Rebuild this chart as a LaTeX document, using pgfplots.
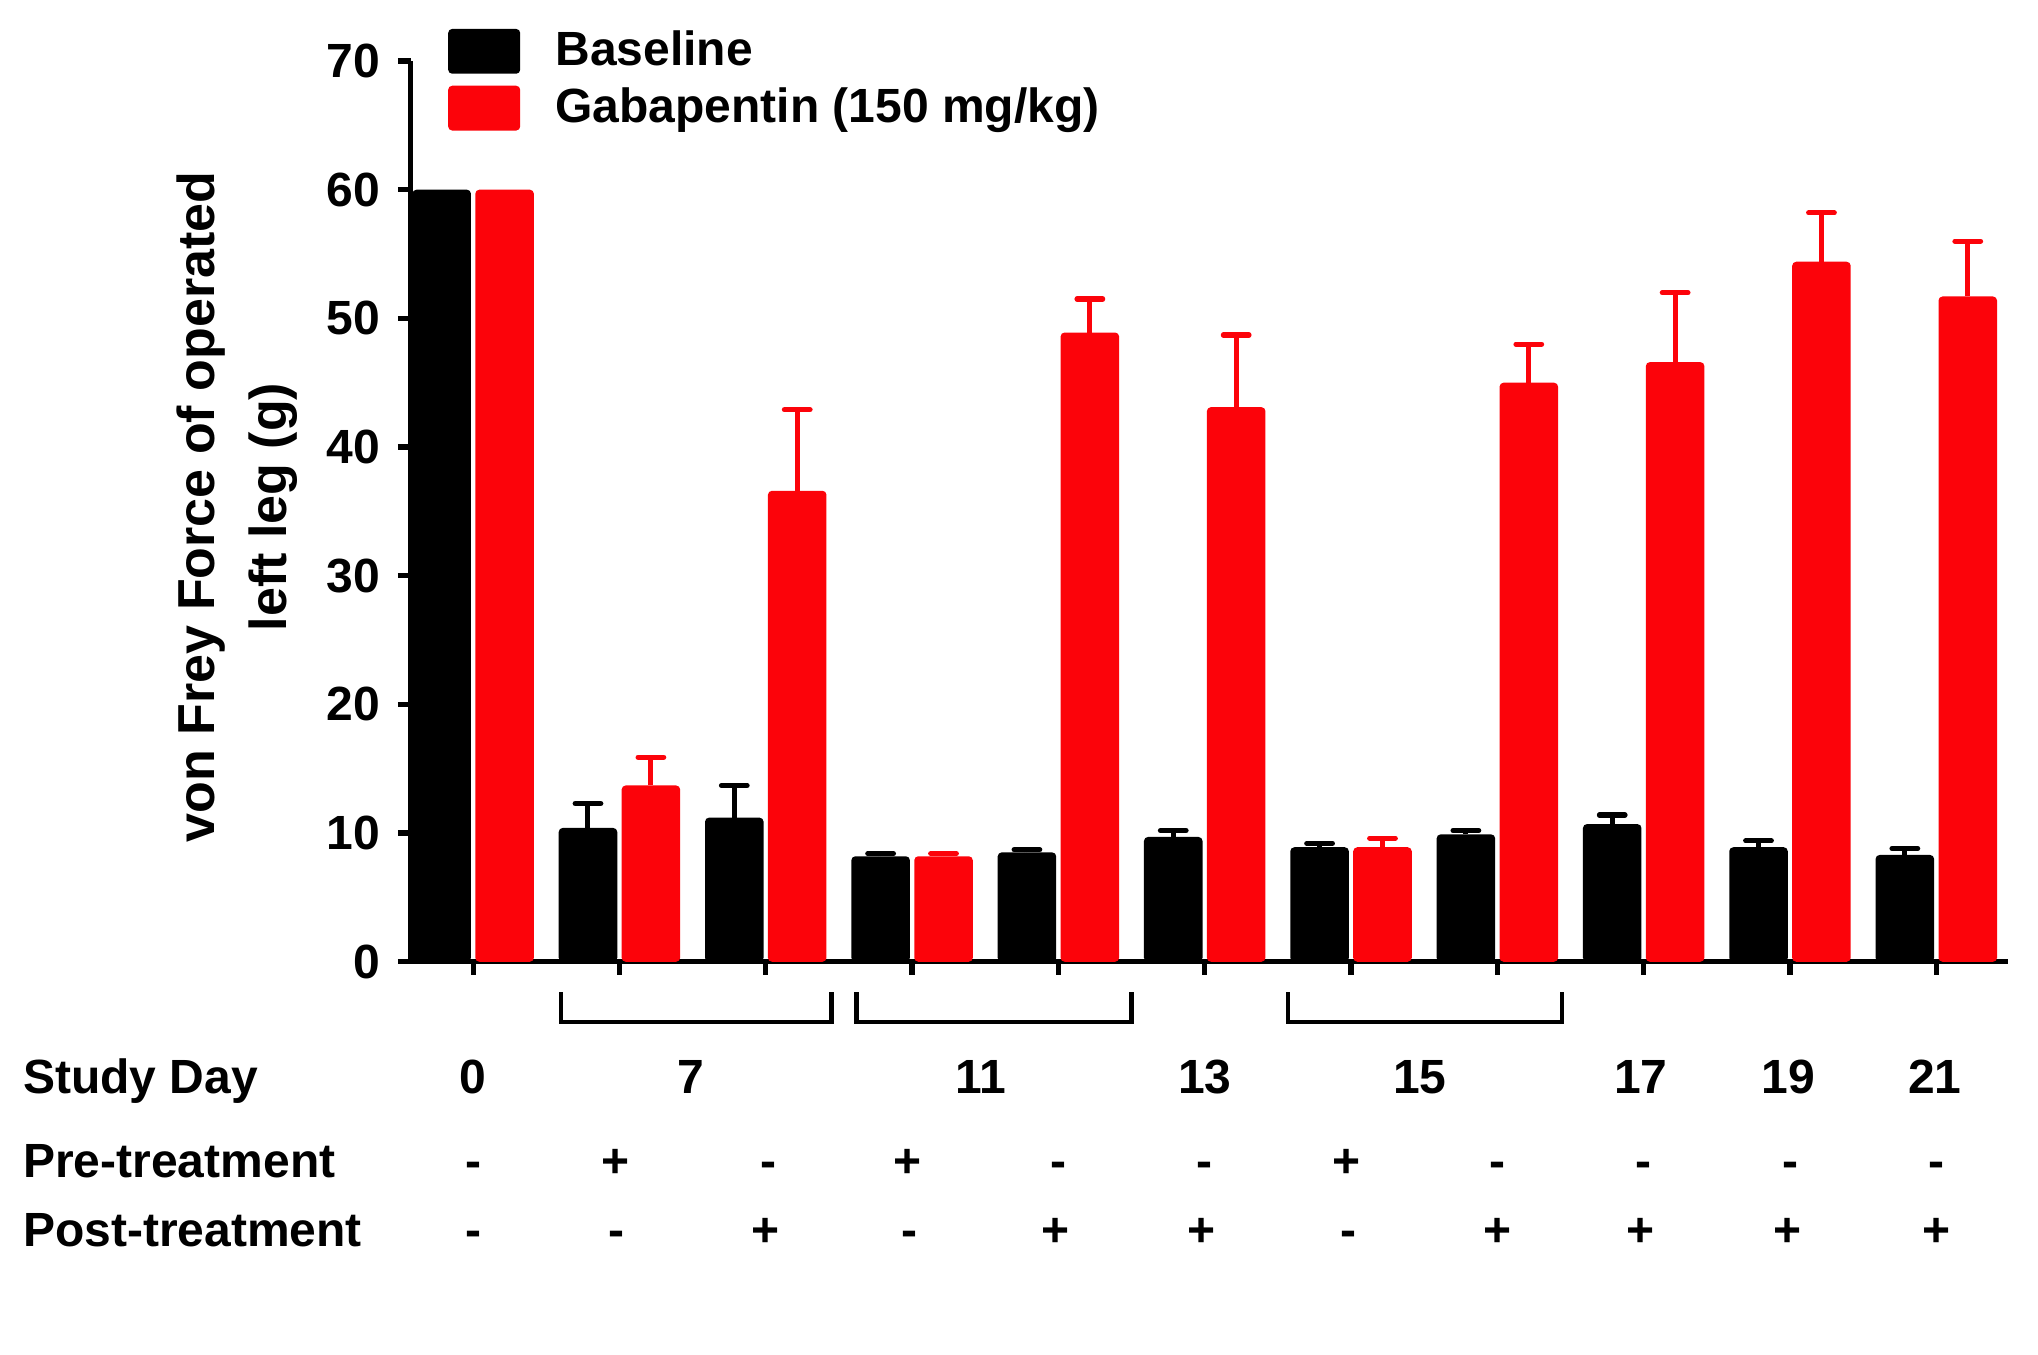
\documentclass[border=0pt]{standalone}
\usepackage{fontspec}
\setmainfont{Liberation Sans}
\usepackage{pgfplots}
\usepackage{pgfplotstable}
\pgfplotsset{compat=1.18}
\definecolor{gred}{RGB}{252,3,10}
\newcommand{\lbl}{\bfseries\fontsize{12}{14}\selectfont}

\pgfplotstableread{
x y err
1 10.4 1.9
2 11.2 2.5
3 8.2 0.2
4 8.5 0.2
5 9.7 0.5
6 8.9 0.3
7 9.9 0.3
8 10.7 0.7
9 8.9 0.5
10 8.3 0.5
}\basetab

\pgfplotstableread{
x y err
1 13.7 2.2
2 36.6 6.3
3 8.2 0.2
4 48.9 2.6
5 43.1 5.6
6 8.9 0.7
7 45.0 3.0
8 46.6 5.4
9 54.4 3.8
10 51.7 4.3
}\gabatab

\newcommand{\cell}[3]{\node[anchor=base, font=\lbl, inner sep=0pt] at (axis cs:#1,#2) {#3};}

\begin{document}
\begin{tikzpicture}
\useasboundingbox (0,0) rectangle (509.5pt,338.75pt);
\begin{axis}[
  at={(102.7pt,98.3pt)}, anchor=south west,
  scale only axis, width=399.3pt, height=225.2pt,
  xmin=-0.426, xmax=10.49, ymin=0, ymax=70,
  axis lines=left,
  axis line style={-, line width=1.3pt},
  tick align=outside,
  major tick length=3.2pt,
  every tick/.style={line width=1.3pt, black},
  xtick={0,...,10}, xticklabels={},
  ytick={0,10,...,70},
  yticklabel style={font=\lbl, xshift=-1pt},
  /pgf/number format/assume math mode=true,
  ylabel={von Frey Force of operated\\left leg (g)},
  every axis y label/.style={at={(axis description cs:-0.1087,0.505)}, rotate=90, anchor=center,
    font=\bfseries\fontsize{13}{18}\selectfont, align=center},
  clip=false,
  ybar, bar width=0.4,
  legend style={at={(axis description cs:0.0234,1.0356)}, anchor=north west,
    draw=none, fill=none, inner sep=0pt, outer sep=0pt, row sep=3pt,
    font=\lbl, legend cell align=left,
    nodes={inner sep=0pt}},
  legend image code/.code={\path[#1, draw=none] (0pt,-5.6pt) rectangle (18pt,5.6pt); \path (26.8pt,0pt);},
]
\addplot[fill=black, draw=none, bar shift=-0.215, rounded corners=1pt,
  error bars/.cd, y dir=plus, y explicit,
  error bar style={draw=black, line width=1.25pt, sharp corners},
  error mark options={rotate=90, mark size=3.2pt, line width=1.3pt, line cap=round, draw=black}]
  table[x=x, y=y, y error=err] {\basetab};
\addlegendentry{Baseline}
\addplot[fill=gred, draw=none, bar shift=0.215, rounded corners=1pt,
  error bars/.cd, y dir=plus, y explicit,
  error bar style={draw=gred, line width=1.25pt, sharp corners},
  error mark options={rotate=90, mark size=3.2pt, line width=1.3pt, line cap=round, draw=gred}]
  table[x=x, y=y, y error=err] {\gabatab};
\addlegendentry{Gabapentin (150 mg/kg)}
% day 0 (no error bars)
\addplot[fill=black, draw=none, bar shift=-0.215, rounded corners=1pt, forget plot] coordinates {(0,60)};
\addplot[fill=gred, draw=none, bar shift=0.215, rounded corners=1pt, forget plot] coordinates {(0,60)};

% brackets
\draw[line width=1.1pt] (axis cs:0.60,-2.35) -- (axis cs:0.60,-4.68) -- (axis cs:2.45,-4.68) -- (axis cs:2.45,-2.35);
\draw[line width=1.1pt] (axis cs:2.62,-2.35) -- (axis cs:2.62,-4.68) -- (axis cs:4.50,-4.68) -- (axis cs:4.50,-2.35);
\draw[line width=1.1pt] (axis cs:5.57,-2.35) -- (axis cs:5.57,-4.68) -- (axis cs:7.44,-4.68) -- (axis cs:7.44,-2.35);

% row labels
\node[anchor=base west, font=\lbl, inner sep=0pt] at (axis cs:-3.08,-10.2) {Study Day};
\node[anchor=base west, font=\lbl, inner sep=0pt] at (axis cs:-3.08,-16.76) {Pre-treatment};
\node[anchor=base west, font=\lbl, inner sep=0pt] at (axis cs:-3.08,-22.12) {Post-treatment};

% study days
\cell{0}{-10.2}{0}
\cell{1.49}{-10.2}{7}
\cell{3.47}{-10.2}{11}
\cell{5.0}{-10.2}{13}
\cell{6.47}{-10.2}{15}
\cell{7.98}{-10.2}{17}
\cell{8.99}{-10.2}{19}
\cell{9.99}{-10.2}{21}
% pre-treatment
\cell{0}{-16.76}{-}
\cell{0.97}{-16.76}{+}
\cell{2.02}{-16.76}{-}
\cell{2.97}{-16.76}{+}
\cell{4}{-16.76}{-}
\cell{5}{-16.76}{-}
\cell{5.97}{-16.76}{+}
\cell{7}{-16.76}{-}
\cell{8}{-16.76}{-}
\cell{9}{-16.76}{-}
\cell{10}{-16.76}{-}
% post-treatment
\cell{0}{-22.12}{-}
\cell{0.98}{-22.12}{-}
\cell{2}{-22.12}{+}
\cell{2.98}{-22.12}{-}
\cell{3.98}{-22.12}{+}
\cell{4.98}{-22.12}{+}
\cell{5.98}{-22.12}{-}
\cell{7}{-22.12}{+}
\cell{7.98}{-22.12}{+}
\cell{8.98}{-22.12}{+}
\cell{10}{-22.12}{+}
\end{axis}
\end{tikzpicture}
\end{document}
